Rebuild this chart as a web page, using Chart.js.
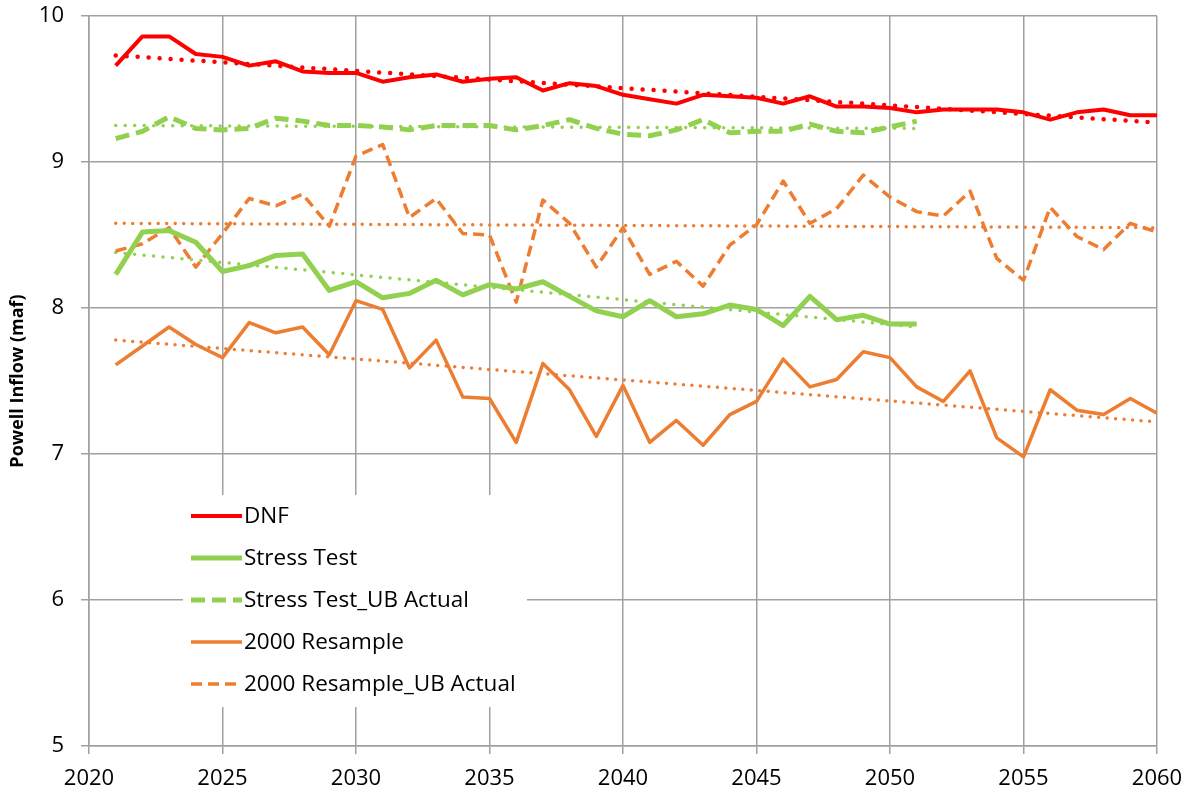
<!DOCTYPE html>
<html>
<head>
<meta charset="utf-8">
<script src="https://cdn.jsdelivr.net/npm/chart.js@4"></script>
<style>
  html, body { margin: 0; padding: 0; background: #fff; }
  #wrap { width: 1188px; height: 792px; }
</style>
</head>
<body>
<div id="wrap"><canvas id="myChart" width="1188" height="792"></canvas></div>
<script>
// years
const years = [2021, 2022, 2023, 2024, 2025, 2026, 2027, 2028, 2029, 2030,
  2031, 2032, 2033, 2034, 2035, 2036, 2037, 2038, 2039, 2040,
  2041, 2042, 2043, 2044, 2045, 2046, 2047, 2048, 2049, 2050,
  2051, 2052, 2053, 2054, 2055, 2056, 2057, 2058, 2059, 2060];

// series values (maf)
const dnf = [9.66, 9.86, 9.86, 9.74, 9.72, 9.66, 9.69, 9.62, 9.61, 9.61,
  9.55, 9.58, 9.60, 9.55, 9.57, 9.58, 9.49, 9.54, 9.52, 9.46,
  9.43, 9.40, 9.46, 9.45, 9.44, 9.40, 9.45, 9.38, 9.38, 9.37,
  9.34, 9.36, 9.36, 9.36, 9.34, 9.29, 9.34, 9.36, 9.32, 9.32];
const stressTest = [8.23, 8.52, 8.53, 8.45, 8.25, 8.29, 8.36, 8.37, 8.12, 8.18,
  8.07, 8.10, 8.19, 8.09, 8.16, 8.13, 8.18, 8.08, 7.98, 7.94,
  8.05, 7.94, 7.96, 8.02, 7.99, 7.88, 8.08, 7.92, 7.95, 7.89,
  7.89];
const stressTestUB = [9.16, 9.21, 9.31, 9.23, 9.22, 9.23, 9.30, 9.28, 9.25, 9.25,
  9.24, 9.22, 9.25, 9.25, 9.25, 9.22, 9.25, 9.29, 9.23, 9.19,
  9.18, 9.22, 9.29, 9.20, 9.21, 9.21, 9.26, 9.21, 9.20, 9.24,
  9.28];
const resample = [7.61, 7.74, 7.87, 7.75, 7.66, 7.90, 7.83, 7.87, 7.68, 8.05,
  7.99, 7.59, 7.78, 7.39, 7.38, 7.08, 7.62, 7.44, 7.12, 7.47,
  7.08, 7.23, 7.06, 7.27, 7.36, 7.65, 7.46, 7.51, 7.70, 7.66,
  7.46, 7.36, 7.57, 7.11, 6.98, 7.44, 7.30, 7.27, 7.38, 7.28];
const resampleUB = [8.39, 8.44, 8.55, 8.28, 8.51, 8.75, 8.70, 8.78, 8.56, 9.04,
  9.12, 8.62, 8.75, 8.51, 8.50, 8.04, 8.74, 8.58, 8.28, 8.55,
  8.23, 8.32, 8.15, 8.43, 8.57, 8.87, 8.58, 8.68, 8.91, 8.76,
  8.66, 8.63, 8.80, 8.34, 8.19, 8.69, 8.49, 8.40, 8.58, 8.52];

// linear trend lines (start / end)
const trendYearsLong = [2021, 2060];
const trendYearsShort = [2021, 2051];
const dnfTrend = [9.73, 9.27];
const stressTrend = [8.38, 7.87];
const stressUBTrend = [9.25, 9.23];
const resampleTrend = [7.78, 7.22];
const resampleUBTrend = [8.58, 8.55];

// axis ticks
const xTicks = [2020, 2025, 2030, 2035, 2040, 2045, 2050, 2055, 2060];
const yTicks = [5, 6, 7, 8, 9, 10];

const RED = '#ff0000';
const GREEN = '#92d050';
const ORANGE = '#ed7d31';
const FONT = "'Open Sans', 'Liberation Sans', sans-serif";

function pts(xs, ys) {
  return ys.map((v, i) => ({ x: xs[i], y: v }));
}

function serie(label, values, color, width, dash, order) {
  return {
    label, data: pts(years, values), borderColor: color, backgroundColor: color,
    borderWidth: width, borderDash: dash, borderCapStyle: 'butt', borderJoinStyle: 'round',
    pointRadius: 0, tension: 0, fill: false, order, inLegend: true
  };
}

function trend(xs, values, color, width, gap, order) {
  return {
    label: 'trend', data: pts(xs, values), borderColor: color,
    borderWidth: width, borderDash: [0, gap], borderCapStyle: 'round',
    pointRadius: 0, tension: 0, fill: false, order, inLegend: false
  };
}

const datasets = [
  serie('DNF', dnf, RED, 4, [], 1),
  serie('Stress Test', stressTest, GREEN, 5, [], 2),
  serie('Stress Test_UB Actual', stressTestUB, GREEN, 5, [14, 7], 3),
  serie('2000 Resample', resample, ORANGE, 3.5, [], 4),
  serie('2000 Resample_UB Actual', resampleUB, ORANGE, 3.5, [11, 6], 5),
  trend(trendYearsLong, dnfTrend, RED, 4.5, 11, 0),
  trend(trendYearsShort, stressTrend, GREEN, 3.5, 9.5, 6),
  trend(trendYearsShort, stressUBTrend, GREEN, 3.5, 9.5, 6),
  trend(trendYearsLong, resampleTrend, ORANGE, 3.5, 8.5, 6),
  trend(trendYearsLong, resampleUBTrend, ORANGE, 3.5, 8.5, 6)
];

// legend box inside the plot, as in the original
const boxLegend = {
  id: 'boxLegend',
  afterDatasetsDraw(chart) {
    const ctx = chart.ctx;
    ctx.save();
    ctx.fillStyle = '#fff';
    ctx.fillRect(183, 495, 344, 212);
    const items = chart.data.datasets.filter(d => d.inLegend);
    ctx.font = '22.5px ' + FONT;
    ctx.textBaseline = 'middle';
    items.forEach((d, i) => {
      const y = 516 + i * 42;
      ctx.strokeStyle = d.borderColor;
      ctx.lineWidth = d.borderWidth;
      ctx.setLineDash(d.borderDash);
      ctx.beginPath();
      ctx.moveTo(191, y);
      ctx.lineTo(242, y);
      ctx.stroke();
      ctx.setLineDash([]);
      ctx.fillStyle = '#000';
      ctx.fillText(d.label, 244, y + 1);
    });
    ctx.restore();
  }
};

const grid = { color: '#a0a0a0', lineWidth: 1.5, tickLength: 8, drawTicks: true };

new Chart(document.getElementById('myChart'), {
  type: 'line',
  data: { datasets },
  options: {
    responsive: false,
    animation: false,
    layout: { padding: { top: 16, right: 31, left: 0, bottom: 0 } },
    plugins: { legend: { display: false }, tooltip: { enabled: false } },
    scales: {
      x: {
        type: 'linear', min: xTicks[0], max: xTicks[xTicks.length - 1],
        afterBuildTicks: s => { s.ticks = xTicks.map(v => ({ value: v })); },
        afterFit: s => { s.height = 46; s.paddingLeft = 0; s.paddingRight = 0; },
        grid, border: { color: '#a0a0a0', width: 1.5 },
        ticks: { color: '#000', font: { family: FONT, size: 22 }, padding: 12, maxRotation: 0,
          callback: v => String(v) }
      },
      y: {
        min: yTicks[0], max: yTicks[yTicks.length - 1],
        afterBuildTicks: s => { s.ticks = yTicks.map(v => ({ value: v })); },
        afterFit: s => { s.width = 89; s.paddingTop = 0; s.paddingBottom = 0; },
        grid, border: { color: '#a0a0a0', width: 1.5 },
        ticks: { color: '#000', font: { family: FONT, size: 22 }, padding: 17,
          callback: v => String(v) },
        title: { display: true, text: 'Powell Inflow (maf)', color: '#000',
          font: { family: FONT, size: 18, weight: 'bold' }, padding: { top: 7, bottom: 0 } }
      }
    }
  },
  plugins: [boxLegend]
});
</script>
</body>
</html>
